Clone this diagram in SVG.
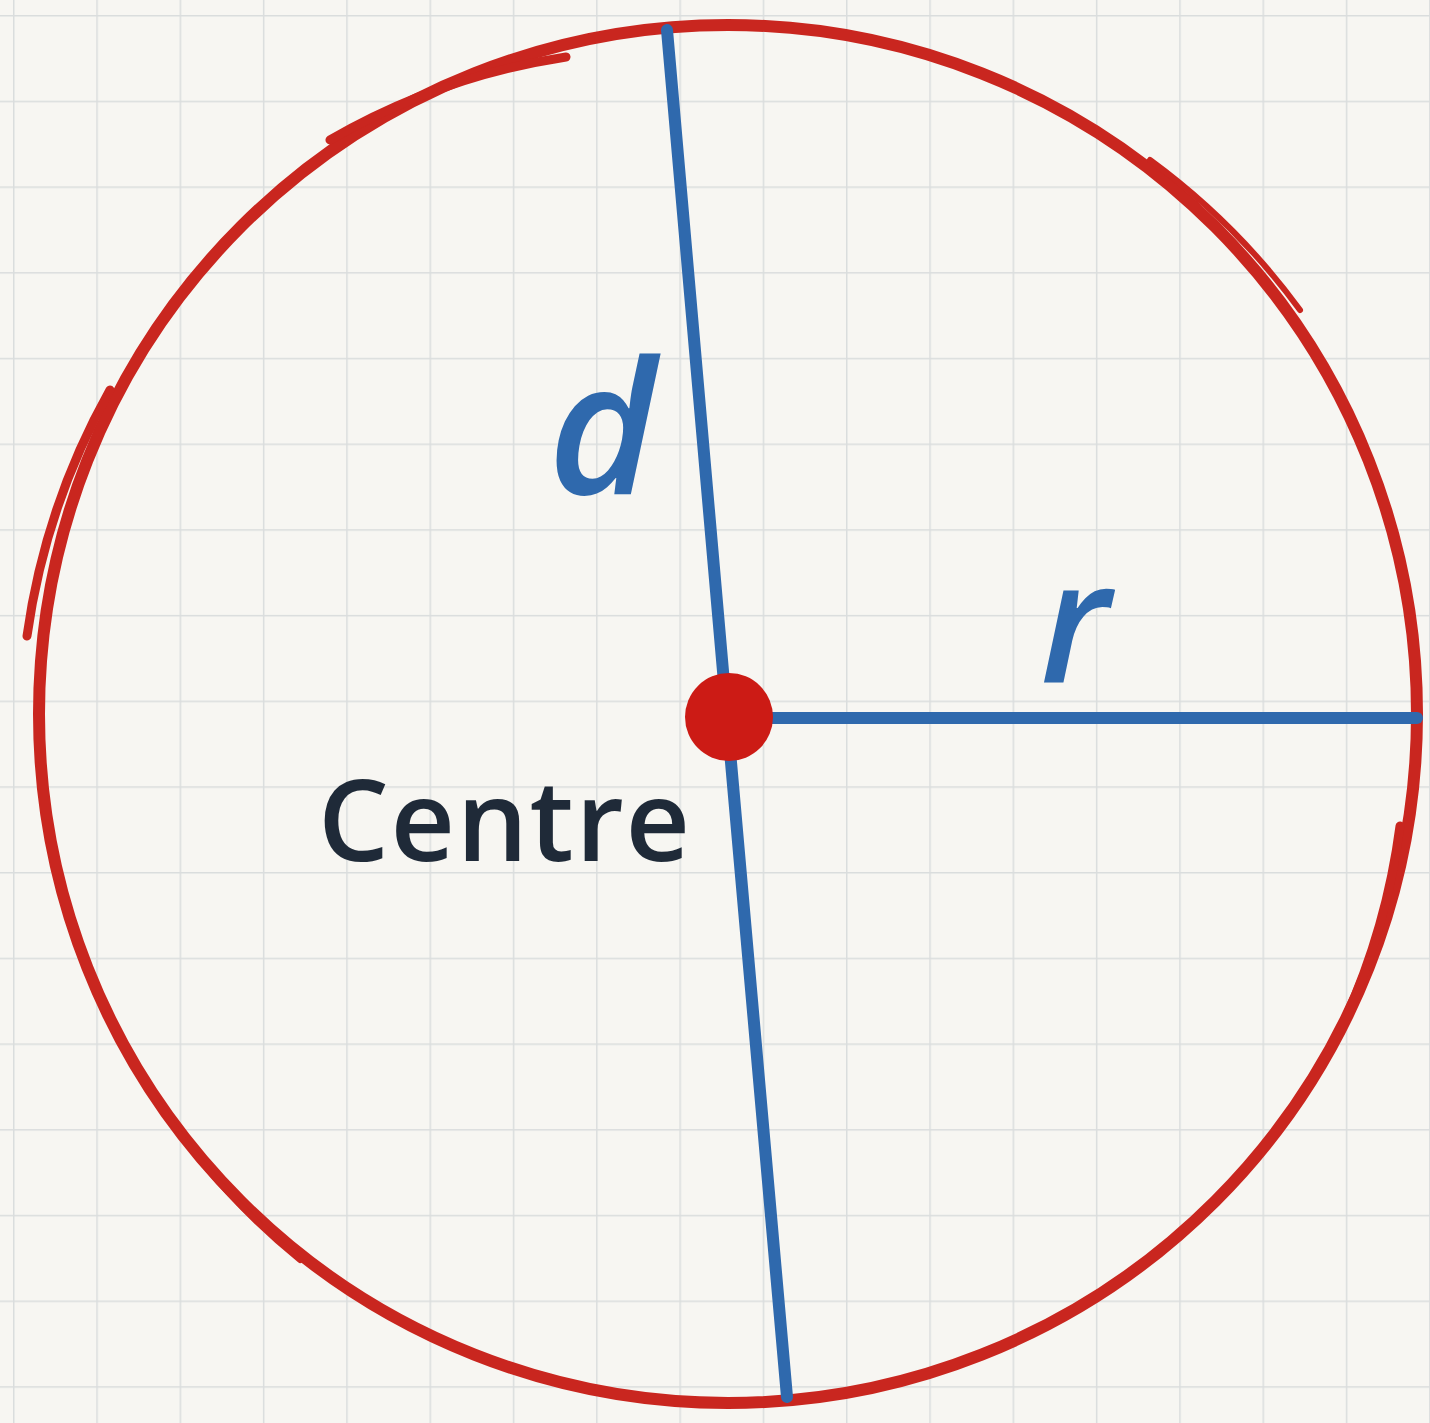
<svg xmlns="http://www.w3.org/2000/svg" width="1430" height="1423" viewBox="0 0 1430 1423">
<defs>
<pattern id="grid" patternUnits="userSpaceOnUse" x="13" y="15" width="83.3" height="85.7">
<path d="M0 0V85.7M0 0H83.3" fill="none" stroke="#dadddd" stroke-width="3"/>
</pattern>
<style>
.red{fill:none;stroke:#c9261f;stroke-linecap:round}
.blue{fill:none;stroke:#2f69ad;stroke-linecap:round}
.lbl{font-family:"Open Sans","DejaVu Sans",sans-serif;font-style:italic;font-weight:600;fill:#2f69ad}
</style>
</defs>
<rect width="1430" height="1423" fill="#f7f6f2"/>
<rect width="1430" height="1423" fill="url(#grid)"/>
<g id="circle">
<circle class="red" cx="728" cy="714" r="689" stroke-width="12"/>
<path class="red" stroke-width="9" d="M566 57 A676 676 0 0 0 330 140"/>
<path class="red" stroke-width="9" d="M27 636 A700 700 0 0 1 110 390"/>
<path class="red" stroke-width="9" d="M1400 826 A684 684 0 0 1 1340 1030"/>
<path class="red" stroke-width="6" d="M150 1090 A693 693 0 0 0 300 1260"/>
<path class="red" stroke-width="6" d="M1150 160 A693 693 0 0 1 1300 310"/>
</g>
<g id="connectors">
<path id="diameter" class="blue" stroke-width="12" d="M667 30 L727 717 L787 1397"/>
<path id="radius" class="blue" stroke-width="12" d="M760 718 L1417 718"/>
</g>
<g id="centre">
<circle cx="729" cy="717" r="44" fill="#cc1b15"/>
<text x="318" y="861" font-family="'Open Sans','DejaVu Sans',sans-serif" font-weight="600" font-size="112" fill="#1f2a38" textLength="372" lengthAdjust="spacing">Centre</text>
</g>
<g id="label-d"><text class="lbl" x="548" y="494" font-size="185">d</text></g>
<g id="label-r"><text class="lbl" x="1040" y="683" font-size="170">r</text></g>
</svg>
